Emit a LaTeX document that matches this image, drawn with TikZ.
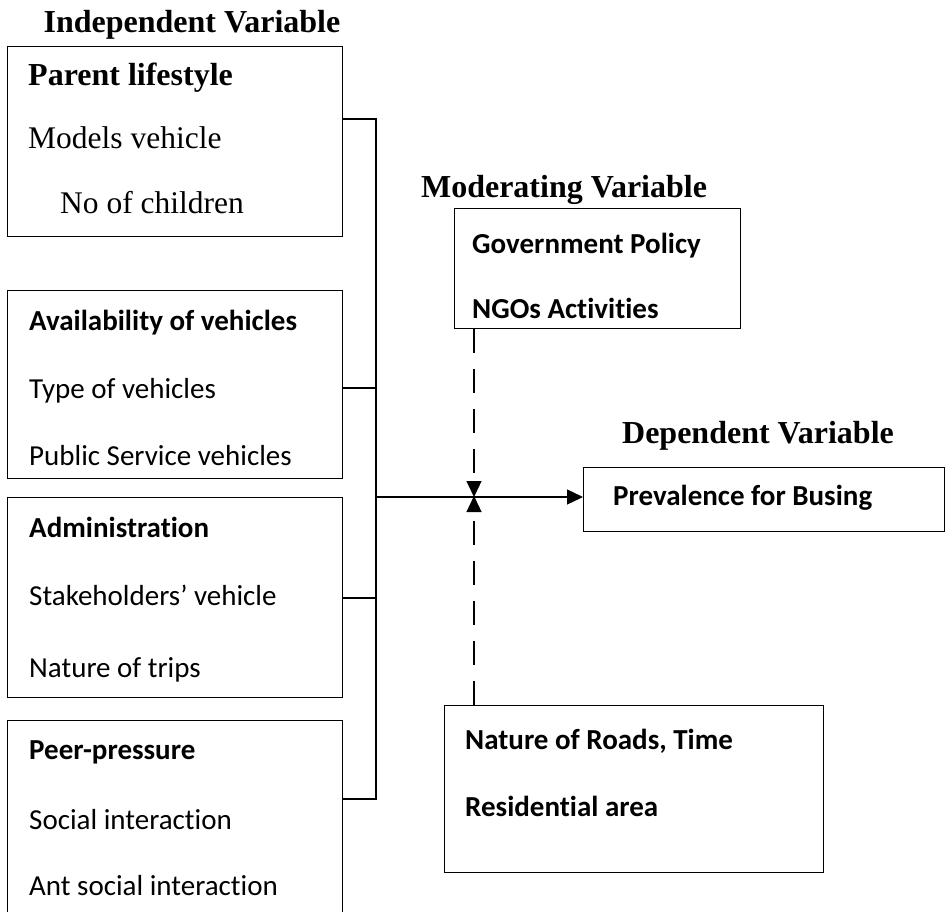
\documentclass[tikz,border=0pt]{standalone}
\usepackage{fontspec}
\setmainfont{Liberation Serif}
\newfontfamily\carlito[Ligatures=NoCommon]{Carlito}
\usetikzlibrary{arrows.meta}
\tikzset{
  box/.style={draw, line width=1.3pt, anchor=north west, inner sep=0pt},
  serifhead/.style={anchor=base, font=\fontsize{32}{36}\selectfont\bfseries},
  sitem/.style={anchor=base west, inner sep=0pt, font=\fontsize{31.5}{36}\selectfont},
  sbitem/.style={anchor=base west, inner sep=0pt, font=\fontsize{32}{36}\selectfont\bfseries},
  litem/.style={anchor=base west, inner sep=0pt, font=\carlito\fontsize{29}{34}\selectfont},
  lbitem/.style={anchor=base west, inner sep=0pt, font=\carlito\fontsize{29}{34}\selectfont\bfseries},
  ritem/.style={anchor=base west, inner sep=0pt, font=\carlito\fontsize{29}{34}\selectfont\bfseries},
  conn/.style={line width=1.3pt},
  tip/.style={-{Triangle[length=16pt,width=15pt]}},
  dashln/.style={line width=1.3pt, dash pattern=on 24pt off 16pt}
}
\begin{document}
\begin{tikzpicture}[x=1pt,y=-1pt]
\useasboundingbox (0,0) rectangle (947,912);
\clip (0,0) rectangle (947,912);
% titles
\node[serifhead] (tind) at (192,33) {Independent Variable};
\node[serifhead] (tmod) at (564,197) {Moderating Variable};
\node[serifhead] (tdep) at (758,443) {Dependent Variable};
% left boxes
\node[box, minimum width=335pt, minimum height=190pt] (b1) at (7,46) {};
\node[box, minimum width=335pt, minimum height=188pt] (b2) at (7,290) {};
\node[box, minimum width=335pt, minimum height=200pt] (b3) at (7,497) {};
\node[box, minimum width=335pt, minimum height=220pt] (b4) at (7,720) {};
\node[sbitem] (b1a) at (28,86) {Parent lifestyle};
\node[sitem] (b1b) at (28,149) {Models vehicle};
\node[sitem] (b1c) at (60,213) {No of children};
\node[lbitem] (b2a) at (29,330) {Availability of vehicles};
\node[litem] (b2b) at (29,398) {Type of vehicles};
\node[litem] (b2c) at (29,465) {Public Service vehicles};
\node[lbitem] (b3a) at (29,537) {Administration};
\node[litem] (b3b) at (29,605) {Stakeholders’ vehicle};
\node[litem] (b3c) at (29,677) {Nature of trips};
\node[lbitem] (b4a) at (29,759) {Peer-pressure};
\node[litem] (b4b) at (29,829) {Social interaction};
\node[litem] (b4c) at (29,895) {Ant social interaction};
% moderating box
\node[box, minimum width=286pt, minimum height=120pt] (mod) at (454,208) {};
\node[ritem] (moda) at (472,253) {Government Policy};
\node[ritem] (modb) at (472,318) {NGOs Activities};
% dependent box
\node[box, minimum width=361pt, minimum height=64pt] (dep) at (583,467) {};
\node[ritem] (depa) at (613,505) {Prevalence for Busing};
% bottom moderating box
\node[box, minimum width=379pt, minimum height=167pt] (low) at (444,705) {};
\node[ritem] (lowa) at (465,749) {Nature of Roads, Time};
\node[ritem] (lowb) at (465,816) {Residential area};
% bus connectors
\coordinate (j1) at (376,119);
\coordinate (j2) at (376,388);
\coordinate (j3) at (376,598);
\coordinate (j4) at (376,799);
\coordinate (jm) at (376,497);
\coordinate (xm) at (474,497);
\draw[conn] (b1.east |- j1) -- (j1) -- (j4) -- (b4.east |- j4);
\draw[conn] (b2.east |- j2) -- (j2);
\draw[conn] (b3.east |- j3) -- (j3);
\draw[conn, tip] (jm) -- (dep.west |- jm);
% dashed moderating lines
\draw[dashln, tip] (mod.south -| xm) -- (xm);
\draw[dashln, tip] (low.north -| xm) -- ([yshift=1pt]xm);
\end{tikzpicture}
\end{document}
